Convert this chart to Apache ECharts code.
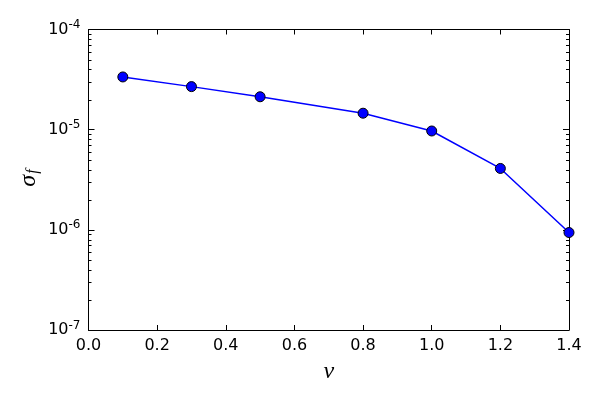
<!DOCTYPE html>
<html>
<head>
<meta charset="utf-8">
<script src="https://cdn.jsdelivr.net/npm/echarts@6/dist/echarts.min.js"></script>
<style>
  html, body { margin: 0; padding: 0; background: #fff; }
  #chart { width: 600px; height: 400px; }
</style>
</head>
<body>
<div id="chart"></div>
<script>
// nu values and sigma_f
const nuValues = [0.1, 0.3, 0.5, 0.8, 1.0, 1.2, 1.4]
const sigmaValues = [3.36e-5, 2.69e-5, 2.13e-5, 1.46e-5, 9.7e-6, 4.1e-6, 9.4e-7]
const yDecades = [-7, -6, -5, -4]

const chart = echarts.init(document.getElementById('chart'))
const font = 'DejaVu Sans'
const mathFont = 'Liberation Serif'

const points = nuValues.map((x, i) => [x, sigmaValues[i]])

const axisLine = { show: true, onZero: false, lineStyle: { color: '#000', width: 1 } }

chart.setOption({
  animation: false,
  grid: { left: 88.5, right: 31, top: 29.5, bottom: 70 },
  xAxis: [{
    type: 'value',
    min: 0,
    max: 1.4,
    interval: 0.2,
    name: 'ν',
    nameLocation: 'middle',
    nameGap: 30,
    nameTextStyle: { fontFamily: mathFont, fontStyle: 'italic', fontSize: 24, color: '#000' },
    axisLine: axisLine,
    axisTick: { inside: true, length: 5, lineStyle: { color: '#000' } },
    axisLabel: {
      fontFamily: font, fontSize: 16, color: '#000', margin: 8,
      formatter: v => v.toFixed(1)
    },
    splitLine: { show: false }
  }, {
    type: 'value',
    position: 'top',
    min: 0,
    max: 1.4,
    interval: 0.2,
    axisLine: axisLine,
    axisTick: { inside: true, length: 5, lineStyle: { color: '#000' } },
    axisLabel: { show: false },
    splitLine: { show: false }
  }],
  yAxis: [{
    type: 'log',
    logBase: 10,
    min: 1e-7,
    max: 1e-4,
    position: 'left',
    axisLine: axisLine,
    axisTick: { inside: true, length: 6, lineStyle: { color: '#000' } },
    axisLabel: {
      fontFamily: font, fontSize: 16, color: '#000', margin: 8,
      formatter: v => '{b|10}{s|' + Math.round(Math.log10(v)) + '}',
      rich: {
        b: { fontFamily: font, fontSize: 16, color: '#000' },
        s: { fontFamily: font, fontSize: 12, color: '#000', padding: [0, 0, 9, 0] }
      }
    },
    splitLine: { show: false }
  }, {
    type: 'log',
    logBase: 10,
    min: 1e-7,
    max: 1e-4,
    position: 'right',
    axisLine: axisLine,
    axisTick: { inside: true, length: 6, lineStyle: { color: '#000' } },
    axisLabel: { show: false },
    splitLine: { show: false }
  }],
  series: [{
    type: 'line',
    data: points,
    symbol: 'circle',
    symbolSize: 10,
    lineStyle: { color: '#0000ff', width: 1.5 },
    itemStyle: { color: '#0000ff', borderColor: '#000', borderWidth: 1 },
    z: 3
  }]
})

// minor log ticks on the left and right spines, plus the sigma_f label with subscript
const minor = []
const leftX = chart.convertToPixel({ xAxisIndex: 0 }, 0)
const rightX = chart.convertToPixel({ xAxisIndex: 0 }, 1.4)
for (let d = 0; d < yDecades.length - 1; d++) {
  for (let k = 2; k <= 9; k++) {
    const y = Math.round(chart.convertToPixel({ yAxisIndex: 0 }, k * Math.pow(10, yDecades[d]))) + 0.5
    minor.push({ type: 'line', shape: { x1: leftX, y1: y, x2: leftX + 3, y2: y }, style: { stroke: '#000', lineWidth: 1 } })
    minor.push({ type: 'line', shape: { x1: rightX, y1: y, x2: rightX - 3, y2: y }, style: { stroke: '#000', lineWidth: 1 } })
  }
}

chart.setOption({
  graphic: minor.concat([{
    type: 'text',
    x: 29,
    y: 178,
    rotation: Math.PI / 2,
    style: {
      text: '{a|σ}{b|f}',
      align: 'center',
      verticalAlign: 'middle',
      rich: {
        a: { fontFamily: mathFont, fontStyle: 'italic', fontSize: 24, fill: '#000' },
        b: { fontFamily: mathFont, fontStyle: 'italic', fontSize: 16, fill: '#000', padding: [8, 0, 0, 1] }
      }
    }
  }])
})
</script>
</body>
</html>
